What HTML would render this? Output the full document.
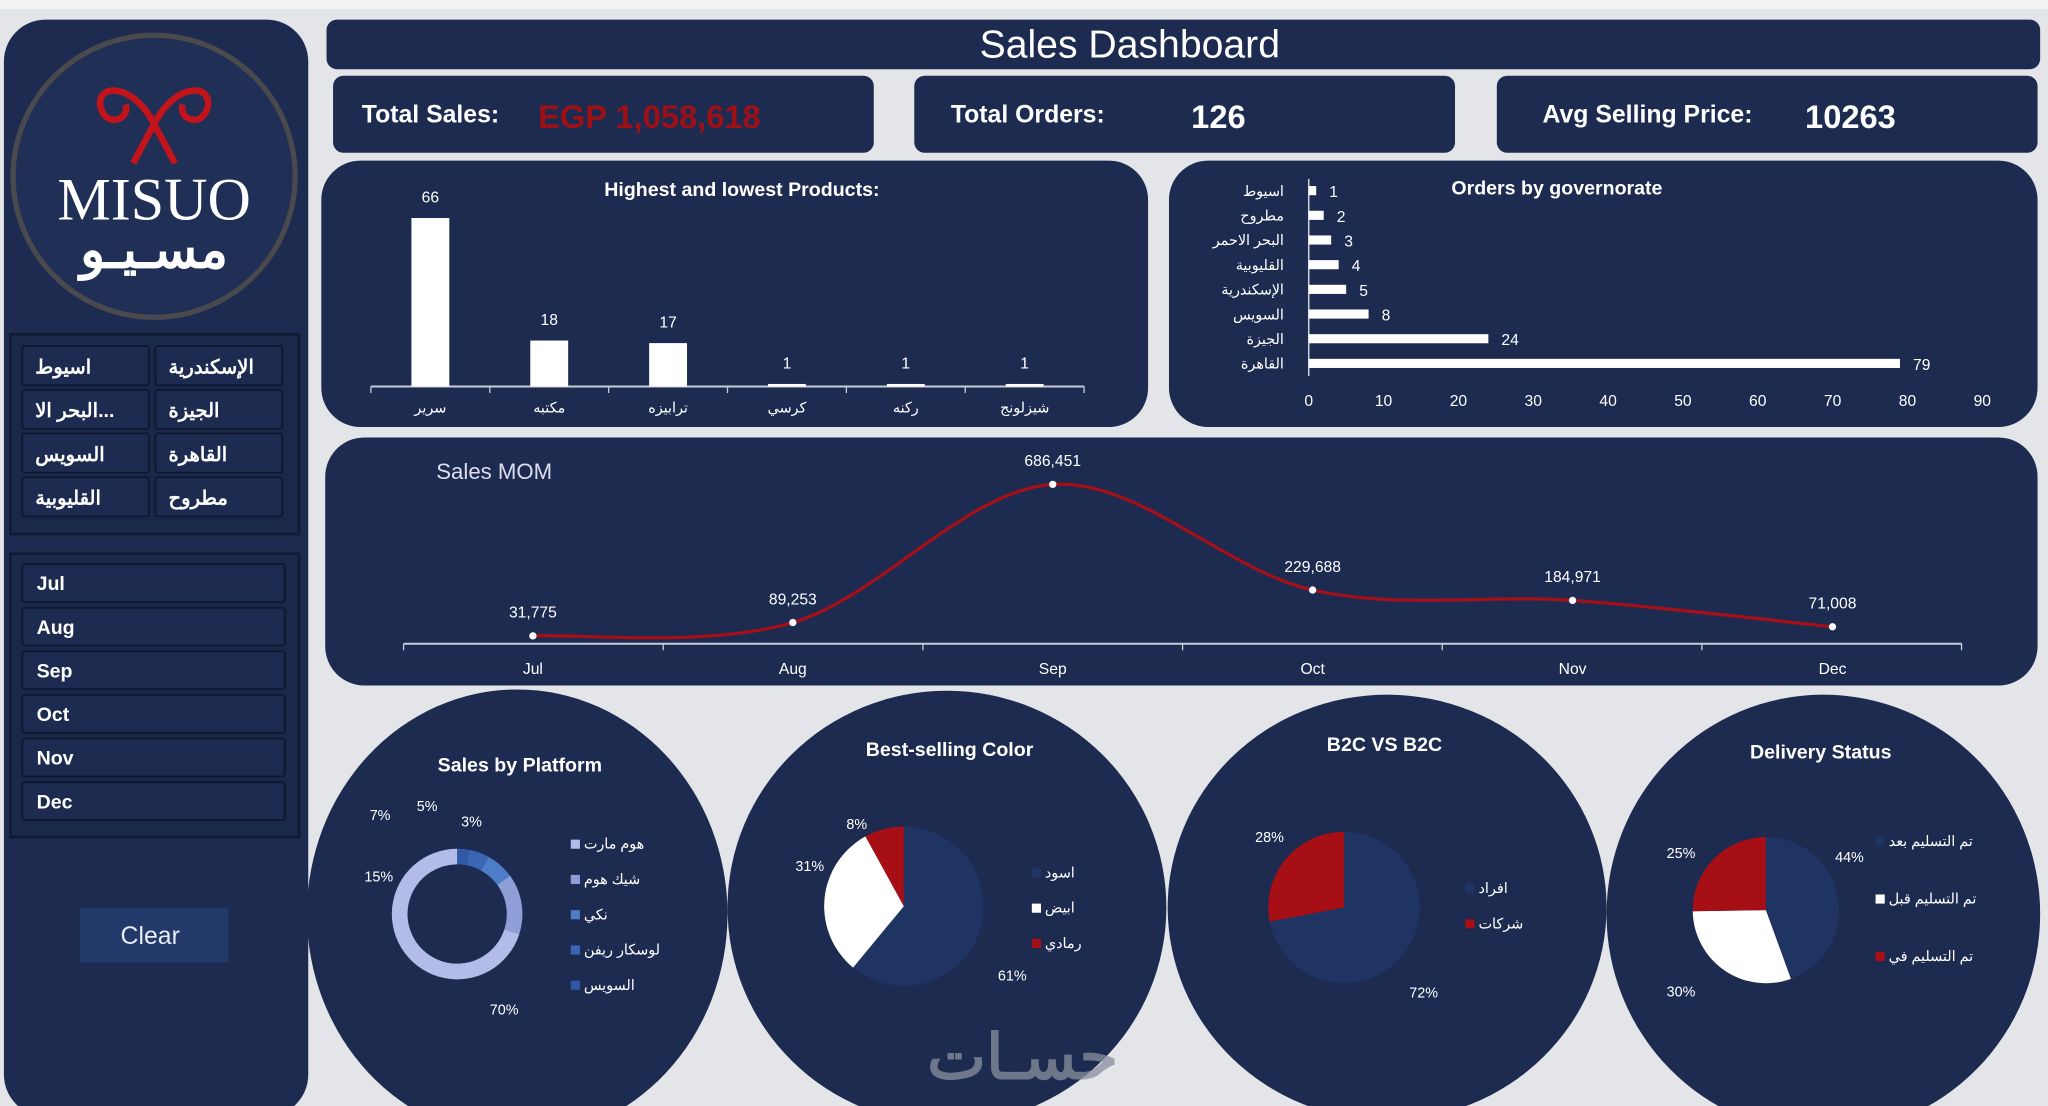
<!DOCTYPE html>
<html><head><meta charset="utf-8"><style>
html,body{margin:0;padding:0;background:#e4e5e9;overflow:hidden}
svg{display:block;font-family:"Liberation Sans","Noto Sans CJK SC",sans-serif}
</style></head><body>
<svg id="s" width="2048" height="1106" viewBox="0 0 1568 847" preserveAspectRatio="none" xmlns="http://www.w3.org/2000/svg">
<rect width="1568" height="847" fill="#e4e5e9"/>
<rect y="0" width="1568" height="7" fill="#f2f2f2"/>
<!-- sidebar -->
<g>
<rect x="3" y="15" width="233" height="840" rx="32" fill="#1c2b4f"/>
<g>
<circle cx="118" cy="135" r="108" fill="#1f2f55" stroke="#4a4a4e" stroke-width="4"/>
<path d="M118 95 C100 60 70 65 78 85 C84 98 100 90 96 80 M118 95 C136 60 166 65 158 85 C152 98 136 90 140 80 M118 95 L102 125 M118 95 L134 125" stroke="#c3141b" stroke-width="5" fill="none"/>
<text x="118" y="168" text-anchor="middle" font-family="Liberation Serif,serif" font-size="46" fill="#fff">MISUO</text>
<text x="118" y="205" text-anchor="middle" font-size="40" font-weight="bold" fill="#fff">مسـيـو</text>
</g>
<rect x="8" y="256" width="221" height="153" fill="#1a284a" stroke="#101a33" stroke-width="2"/>
<g id="govbtns"></g>
<rect x="8" y="424" width="221" height="217" fill="#1a284a" stroke="#101a33" stroke-width="2"/>
<g id="monbtns"></g>
<rect x="61" y="695" width="114" height="42" fill="#22396a"/>
<text x="115" y="723" text-anchor="middle" font-size="19" fill="#e8ecf5">Clear</text>
</g>
<!-- title -->
<rect x="250" y="15" width="1312" height="38" rx="8" fill="#1c2b4f"/>
<text x="865" y="44" text-anchor="middle" font-size="30" fill="#fff">Sales Dashboard</text>
<!-- KPI -->
<g><rect x="255" y="58" width="414" height="59" rx="8" fill="#1c2b4f"/>
<text x="277" y="94" font-size="19" font-weight="bold" fill="#fff">Total Sales:</text>
<text x="412" y="98" font-size="25" font-weight="bold" fill="#9e1016">EGP 1,058,618</text></g>
<g><rect x="700" y="58" width="414" height="59" rx="8" fill="#1c2b4f"/>
<text x="728" y="94" font-size="19" font-weight="bold" fill="#fff">Total Orders:</text>
<text x="912" y="98" font-size="25" font-weight="bold" fill="#fff">126</text></g>
<g><rect x="1146" y="58" width="414" height="59" rx="8" fill="#1c2b4f"/>
<text x="1181" y="94" font-size="19" font-weight="bold" fill="#fff">Avg Selling Price:</text>
<text x="1382" y="98" font-size="25" font-weight="bold" fill="#fff">10263</text></g>
<!-- panels -->
<rect x="246" y="123" width="633" height="204" rx="30" fill="#1c2b4f"/>
<text x="568" y="150" text-anchor="middle" font-size="15" font-weight="bold" fill="#fff">Highest and lowest Products:</text>
<g id="prod"></g>
<rect x="895" y="123" width="665" height="204" rx="30" fill="#1c2b4f"/>
<text x="1192" y="149" text-anchor="middle" font-size="15" font-weight="bold" fill="#fff">Orders by governorate</text>
<g id="gov"></g>
<rect x="249" y="335" width="1311" height="190" rx="30" fill="#1c2b4f"/>
<text x="334" y="367" font-size="17" fill="#dde">Sales MOM</text>
<g id="mom"></g>
<!-- circles -->
<ellipse cx="396" cy="700" rx="161" ry="172" fill="#1c2b4f"/>
<ellipse cx="725" cy="695" rx="168" ry="166" fill="#1c2b4f"/>
<ellipse cx="1062" cy="695" rx="168" ry="163" fill="#1c2b4f"/>
<ellipse cx="1396" cy="700" rx="166" ry="168" fill="#1c2b4f"/>
<text x="398" y="591" text-anchor="middle" font-size="15" font-weight="bold" fill="#fff">Sales by Platform</text>
<text x="727" y="579" text-anchor="middle" font-size="15" font-weight="bold" fill="#fff">Best-selling Color</text>
<text x="1060" y="575" text-anchor="middle" font-size="15" font-weight="bold" fill="#fff">B2C VS B2C</text>
<text x="1394" y="581" text-anchor="middle" font-size="15" font-weight="bold" fill="#fff">Delivery Status</text>
<g id="pies"></g>
<text x="783" y="826" text-anchor="middle" font-size="48" font-weight="bold" fill="#8a8f9e" opacity="0.75">حسـات</text>
</svg>
<script>
const NS='http://www.w3.org/2000/svg';
function mk(tag,attrs,parent,txt){const e=document.createElementNS(NS,tag);for(const k in attrs)e.setAttribute(k,attrs[k]);if(txt!==undefined)e.textContent=txt;parent.appendChild(e);return e;}
const $=id=>document.getElementById(id);

const govButtons=['اسيوط','الإسكندرية','البحر الا...','الجيزة','السويس','القاهرة','القليوبية','مطروح'];
const months=['Jul','Aug','Sep','Oct','Nov','Dec'];
const prodCats=['سرير','مكتبه','ترابيزه','كرسي','ركنه','شيزلونج'];
const prodVals=[66,18,17,1,1,1];
const govCats=['اسيوط','مطروح','البحر الاحمر','القليوبية','الإسكندرية','السويس','الجيزة','القاهرة'];
const govVals=[1,2,3,4,5,8,24,79];
const govTicks=[0,10,20,30,40,50,60,70,80,90];
const momVals=[31775,89253,686451,229688,184971,71008];
const momLabels=['31,775','89,253','686,451','229,688','184,971','71,008'];
const platCats=['هوم مارت','شيك هوم','نكي','لوسكار ريفن','السويس'];
const platVals=[70,15,7,5,3];
const colorCats=['اسود','ابيض','رمادي'];
const colorVals=[61,31,8];
const b2cCats=['افراد','شركات'];
const b2cVals=[72,28];
const delCats=['تم التسليم بعد الموعد','تم التسليم قبل الموعد','تم التسليم في الموعد'];
const delVals=[44,30,25];

// slicers
govButtons.forEach((t,i)=>{const c=i%2,r=Math.floor(i/2);const x=c?119:17,y=265+r*33.5;
 const b=mk('rect',{x:x,y:y,width:97,height:30,rx:2,fill:'#1c2b4f',stroke:'#0f1830','stroke-width':1.5},$('govbtns'));
 
 
 mk('text',{x:x+(c?10:10),y:y+21,'font-size':15,'font-weight':'bold',fill:'#fff'},$('govbtns'),t);});
months.forEach((t,i)=>{const y=432+i*33.4;
 const b=mk('rect',{x:17,y:y,width:201,height:29,rx:2,fill:'#1c2b4f',stroke:'#0f1830','stroke-width':1.5},$('monbtns'));
 
 
 mk('text',{x:28,y:y+20,'font-size':15,'font-weight':'bold',fill:'#fff'},$('monbtns'),t);});

// product bar chart
(function(){const g=$('prod');const x0=284,x1=830,y0=296,step=(x1-x0)/prodCats.length;const ys=v=>y0-v*1.955;
 mk('line',{x1:x0,y1:y0,x2:x1,y2:y0,stroke:'#c8ccd6','stroke-width':1.5},g);
 for(let i=0;i<=prodCats.length;i++)mk('line',{x1:x0+i*step,y1:y0,x2:x0+i*step,y2:y0+5,stroke:'#c8ccd6'},g);
 prodVals.forEach((v,i)=>{const cx=x0+step*(i+0.5);
  const b=mk('rect',{x:cx-14.5,y:ys(v),width:29,height:y0-ys(v),fill:'#fff'},g);
  
  
  mk('text',{x:cx,y:ys(v)-12,'text-anchor':'middle','font-size':12,fill:'#fff'},g,v);
  mk('text',{x:cx,y:y0+20,'text-anchor':'middle','font-size':11,fill:'#fff'},g,prodCats[i]);});})();

// governorate bars
(function(){const g=$('gov');const x0=1002,px=57.3/10,y0=146,step=18.9;const xs=v=>x0+v*px;
 mk('line',{x1:x0,y1:137,x2:x0,y2:288,stroke:'#c8ccd6','stroke-width':1.2},g);
 govTicks.forEach(t=>mk('text',{x:xs(t),y:311,'text-anchor':'middle','font-size':12,fill:'#fff'},g,t));
 govVals.forEach((v,i)=>{const y=y0+i*step;
  const b=mk('rect',{x:x0,y:y-3.5,width:xs(v)-x0,height:7,fill:'#fff'},g);
  
  
  mk('text',{x:xs(v)+10,y:y+5,'font-size':12,fill:'#fff'},g,v);
  mk('text',{x:983,y:y+4,'text-anchor':'end','font-size':11,fill:'#fff'},g,govCats[i]);});})();

// MOM line
(function(){const g=$('mom');const xs=i=>408+i*199;const ys=v=>492.6-v*1.772e-4;
 mk('line',{x1:309,y1:493,x2:1502,y2:493,stroke:'#c8ccd6','stroke-width':1.5},g);
 for(let i=0;i<=6;i++)mk('line',{x1:309+i*198.8,y1:493,x2:309+i*198.8,y2:498,stroke:'#c8ccd6'},g);
 const P=momVals.map((v,i)=>[xs(i),ys(v)]);let d='M'+P[0][0]+' '+P[0][1];
 for(let i=0;i<P.length-1;i++){const p0=P[Math.max(0,i-1)],p1=P[i],p2=P[i+1],p3=P[Math.min(P.length-1,i+2)];
  d+=` C${p1[0]+(p2[0]-p0[0])/6} ${p1[1]+(p2[1]-p0[1])/6} ${p2[0]-(p3[0]-p1[0])/6} ${p2[1]-(p3[1]-p1[1])/6} ${p2[0]} ${p2[1]}`;}
 const l=mk('path',{d:d,fill:'none',stroke:'#a3101a','stroke-width':2.5},g);
 
 
 P.forEach((p,i)=>{const c=mk('circle',{cx:p[0],cy:p[1],r:2.8,fill:'#fff'},g);
  
  
  mk('text',{x:p[0],y:p[1]-14,'text-anchor':'middle','font-size':12,fill:'#fff'},g,momLabels[i]);
  mk('text',{x:p[0],y:516,'text-anchor':'middle','font-size':12,fill:'#fff'},g,months[i]);});})();

// pies
function arc(cx,cy,r,a0,a1,ri){const p=(a,rr)=>[cx+rr*Math.sin(a),cy-rr*Math.cos(a)];const L=(a1-a0)>Math.PI?1:0;
 const [x0,y0]=p(a0,r),[x1,y1]=p(a1,r);
 if(!ri)return `M${cx} ${cy}L${x0} ${y0}A${r} ${r} 0 ${L} 1 ${x1} ${y1}Z`;
 const [x2,y2]=p(a1,ri),[x3,y3]=p(a0,ri);return `M${x0} ${y0}A${r} ${r} 0 ${L} 1 ${x1} ${y1}L${x2} ${y2}A${ri} ${ri} 0 ${L} 0 ${x3} ${y3}Z`;}
function pie(vals,cols,cx,cy,r,ri,name){const g=$('pies');const tot=vals.reduce((a,b)=>a+b,0);let a=0;
 vals.forEach((v,i)=>{const a1=a+v/tot*2*Math.PI;const s=mk('path',{d:arc(cx,cy,r,a,a1-1e-4,ri),fill:cols[i]},g);
  
  
  a=a1;});}
function legend(cats,cols,x,y,step){const g=$('pies');cats.forEach((c,i)=>{mk('rect',{x:x,y:y+i*step-7,width:7,height:7,fill:cols[i]},g);
 mk('text',{x:x+10,y:y+i*step,'font-size':11,fill:'#fff'},g,c);});}
function lbl(t,x,y){mk('text',{x:x,y:y,'font-size':11,fill:'#fff','text-anchor':'middle'},$('pies'),t+'%');}
const platCols=['#b3bce8','#8e9fd8','#4d7cc9','#3a66b4','#2f59a4'];
pie(platVals.slice().reverse(),platCols.slice().reverse(),350,700,50,38,'platform-slice');
legend(platCats,['#b3bce8','#8e9fd8','#4d7cc9','#3a66b4','#2f59a4'],437,650,27);
lbl(platVals[0],386,777);lbl(platVals[1],290,675);lbl(platVals[2],291,628);lbl(platVals[3],327,621);lbl(platVals[4],361,633);
pie(colorVals,['#1f3462','#ffffff','#a50f15'],692,694,61,0,'color-slice');
legend(colorCats,['#1f3462','#ffffff','#a50f15'],790,672,27);
lbl(colorVals[0],775,751);lbl(colorVals[1],620,667);lbl(colorVals[2],656,635);
pie(b2cVals,['#1f3462','#a50f15'],1029,695,58,0,'b2c-slice');
legend(b2cCats,['#1f3462','#a50f15'],1122,684,27);
lbl(b2cVals[0],1090,764);lbl(b2cVals[1],972,645);
pie(delVals,['#1f3462','#ffffff','#a50f15'],1352,697,56,0,'delivery-slice');
legend(['تم التسليم بعد','تم التسليم قبل','تم التسليم في'],['#1f3462','#ffffff','#a50f15'],1436,648,44);
lbl(delVals[0],1416,660);lbl(delVals[1],1287,763);lbl(delVals[2],1287,657);
</script>
</body></html>
